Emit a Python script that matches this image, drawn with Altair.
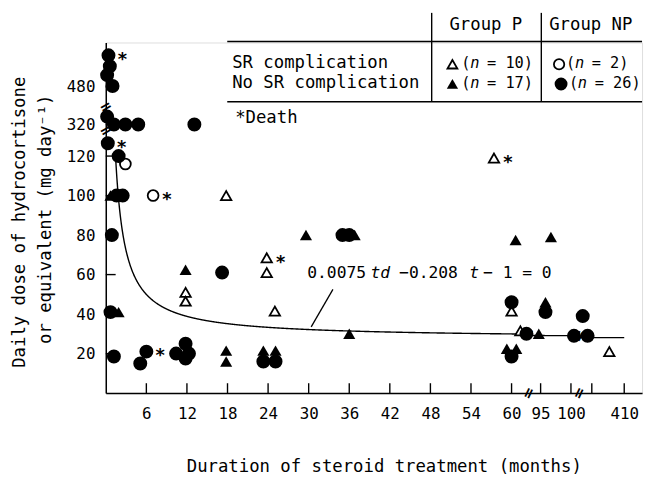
import altair as alt
import pandas as pd

FONT = "DejaVu Sans Mono"

# ---------------- data (months, daily dose) ----------------
# Group P, SR complication (open triangles)
p_sr_month = [17.8, 11.8, 11.8, 23.8, 23.8, 25.0, 57.4, 61.3, 405.4, 60.0]
p_sr_dose = [100, 51, 46.5, 68.5, 61, 41.5, 119, 31.5, 21, 41.5]
p_sr_death = [0, 0, 0, 1, 0, 0, 1, 0, 0, 0]

# Group P, no SR complication (filled triangles)
p_no_month = [0.7, 29.6, 11.8, 1.9, 17.8, 17.8, 23.3, 25.1, 36.8, 36.0,
              60.6, 96.7, 95.8, 59.3, 60.7, 94.7]
p_no_dose = [100, 80, 62.5, 41, 21.5, 16, 21.5, 21.5, 80, 30,
             77.5, 79, 46, 22.5, 22.5, 30]
p_no_death = [0] * len(p_no_month)

# Group NP, SR complication (open circles)
np_sr_month = [7.0, 2.9]
np_sr_dose = [100, 116]
np_sr_death = [1, 0]

# Group NP, no SR complication (filled circles)
np_no_month = [0.4, 0.6, 0.2, 1.0, 0.2, 1.2, 2.9, 4.8, 13.1, 0.3, 1.9,
               1.6, 2.5, 0.9, 17.2, 0.7, 1.2, 5.1, 6.0, 10.4, 11.8, 11.8,
               12.3, 23.3, 25.1, 35.0, 36.0, 60.0, 60.0, 95.8, 62.2, 100.5,
               398.7, 397.2]
np_no_dose = [496, 490.5, 486, 480.5, 324, 320, 320, 320, 320, 126.5, 120,
              100, 100, 80, 61, 41, 18.5, 15, 21, 20, 25, 17.5,
              20, 16, 16, 80, 80, 46, 18.5, 41, 30, 29,
              29, 39]
np_no_death = [1, 0, 0, 0, 0, 0, 0, 0, 0, 1, 0,
               0, 0, 0, 0, 0, 0, 0, 1, 0, 0, 0,
               0, 0, 0, 0, 0, 0, 0, 0, 0, 0,
               0, 0]

# fitted curve: a*t*d - b*t - c = 0
curve_a, curve_b, curve_c = 0.0075, 0.208, 1.0

x_tick_values = [6, 12, 18, 24, 30, 36, 42, 48, 54, 60, 95, 100, 400, 410]
y_tick_values = [20, 40, 60, 80, 100, 120, 320, 480]
x_breaks = [62.5, 101.3]
y_breaks = [133, 470]

rows = []
for grp, ms, ds, dt in [("P_SR", p_sr_month, p_sr_dose, p_sr_death),
                        ("P_NO", p_no_month, p_no_dose, p_no_death),
                        ("NP_SR", np_sr_month, np_sr_dose, np_sr_death),
                        ("NP_NO", np_no_month, np_no_dose, np_no_death)]:
    for m, d, k in zip(ms, ds, dt):
        rows.append({"month": m, "dose": d, "grp": grp, "death": k})
df = pd.DataFrame(rows)

W, H = 543, 355
x_scale = alt.Scale(domain=[0, 62.5, 93, 101.3, 396, 415.5],
                    range=[0, 428, 428, 479, 479, W], zero=False, nice=False)
y_scale = alt.Scale(domain=[0, 133, 317, 329, 470, 502.5],
                    range=[H, 89, 89, 65, 65, 0], zero=False, nice=False)

x_axis = alt.Axis(values=x_tick_values, ticks=False, grid=False, title=None,
                  labelExpr="datum.value == 400 ? '' : datum.label",
                  domainColor="black", domainWidth=1.5, labelFont=FONT,
                  labelFontSize=16, labelColor="black", labelPadding=13,
                  labelOverlap=False, labelFlush=False)
y_axis = alt.Axis(values=y_tick_values, ticks=False, grid=False, title=None,
                  domainColor="black", domainWidth=1.5, labelFont=FONT,
                  labelFontSize=16, labelColor="black", labelPadding=11,
                  labelOverlap=False, labelFlush=False)

X = alt.X("month:Q", scale=x_scale, axis=x_axis)
Y = alt.Y("dose:Q", scale=y_scale, axis=y_axis)
Xn = alt.X("month:Q", scale=x_scale)
Yn = alt.Y("dose:Q", scale=y_scale)

base = alt.Chart(df)

filled = base.transform_filter("datum.grp == 'P_NO' || datum.grp == 'NP_NO'").mark_point(
    filled=True, color="black", opacity=1
).encode(
    x=X, y=Y,
    shape=alt.Shape("grp:N", scale=alt.Scale(domain=["P_NO", "NP_NO"], range=["triangle-up", "circle"]), legend=None),
    size=alt.Size("grp:N", scale=alt.Scale(domain=["P_NO", "NP_NO"], range=[150, 200]), legend=None),
)

opened = base.transform_filter("datum.grp == 'P_SR' || datum.grp == 'NP_SR'").mark_point(
    filled=True, fill="white", stroke="black", strokeWidth=1.8, opacity=1, fillOpacity=1
).encode(
    x=Xn, y=Yn,
    shape=alt.Shape("grp:N", scale=alt.Scale(domain=["P_SR", "NP_SR"], range=["triangle-up", "circle"]), legend=None),
    size=alt.Size("grp:N", scale=alt.Scale(domain=["P_SR", "NP_SR"], range=[110, 120]), legend=None),
)

stars = base.transform_filter("datum.death == 1").mark_text(
    text="*", font="DejaVu Sans", fontSize=18, fontWeight="bold", dx=14, dy=5,
    baseline="middle", color="black"
).encode(x=Xn, y=Yn)

curve = alt.Chart(alt.sequence(1.45, 410.05, 0.05, as_="month")).transform_filter(
    "datum.month <= 62.5 || (datum.month >= 93 && datum.month <= 101.3) || datum.month >= 396"
).transform_calculate(
    dose=f"({curve_b} * datum.month + {curve_c}) / ({curve_a} * datum.month)"
).mark_line(color="black", strokeWidth=1.4).encode(x=Xn, y=Yn, order="month:Q")

one = alt.Data(values=[{"k": 1}])

xt = alt.Chart(pd.DataFrame({"month": x_tick_values})).mark_rule(color="black", strokeWidth=1.4).encode(
    x=Xn, y=alt.value(H - 10), y2=alt.value(H))
yt = alt.Chart(pd.DataFrame({"dose": y_tick_values})).mark_rule(color="black", strokeWidth=1.4).encode(
    y=Yn, x=alt.value(0), x2=alt.value(10))

xb = alt.Chart(pd.DataFrame({"month": x_breaks, "dose": [0, 0]})).mark_text(
    text="=", fontSize=15, fontWeight="bold", font="DejaVu Sans", angle=295, color="black", baseline="middle"
).encode(x=Xn, y=Yn)
cb = alt.Chart(pd.DataFrame({"month": x_breaks})).transform_calculate(
    dose=f"({curve_b} * datum.month + {curve_c}) / ({curve_a} * datum.month)"
).mark_text(
    text="=", fontSize=15, fontWeight="bold", font="DejaVu Sans", angle=295, color="black", baseline="middle"
).encode(x=Xn, y=Yn)
yb = alt.Chart(pd.DataFrame({"month": [0, 0], "dose": y_breaks})).mark_text(
    text="=", fontSize=15, fontWeight="bold", font="DejaVu Sans", angle=330, color="black", baseline="middle"
).encode(x=Xn, y=Yn)


def txt(s, x, y, size=17, align="left", style="normal", angle=0, font=FONT):
    return alt.Chart(one).mark_text(
        text=s, font=font, fontSize=size, align=align, baseline="middle",
        fontStyle=style, angle=angle, color="black"
    ).encode(x=alt.value(x), y=alt.value(y))


def rule(x1, y1, x2, y2, w=1.4):
    return alt.Chart(one).mark_rule(color="black", strokeWidth=w).encode(
        x=alt.value(x1), y=alt.value(y1), x2=alt.value(x2), y2=alt.value(y2))


def sym(shape, filled_, x, y, size):
    if filled_:
        mk = alt.Chart(one).mark_point(shape=shape, filled=True, color="black", size=size, opacity=1)
    else:
        mk = alt.Chart(one).mark_point(shape=shape, filled=True, fill="white", stroke="black",
                                       strokeWidth=1.8, size=size, opacity=1)
    return mk.encode(x=alt.value(x), y=alt.value(y))


def n_label(x, y, num):
    return [txt("(", x, y, 15.5), txt("n", x + 9, y, 15.5, style="italic"),
            txt("= " + num + ")", x + 26, y, 15.5)]


ox, oy = 107, 40  # plot origin in page pixels
legend = [
    rule(230 - ox, 39 - oy, 650 - ox, 39 - oy),
    rule(230 - ox, 100 - oy, 650 - ox, 100 - oy),
    rule(437 - ox, 10 - oy, 437 - ox, 100 - oy),
    rule(548 - ox, 10 - oy, 548 - ox, 100 - oy),
    txt("Group P", 455 - ox, 22 - oy, 17.5),
    txt("Group NP", 556 - ox, 22 - oy, 17.5),
    txt("SR complication", 235 - ox, 61 - oy, 17.5),
    txt("No SR complication", 235 - ox, 81 - oy, 17.5),
    sym("triangle-up", False, 458 - ox, 62 - oy, 100),
    sym("triangle-up", True, 458 - ox, 82 - oy, 130),
    sym("circle", False, 566 - ox, 62 - oy, 110),
    sym("circle", True, 568 - ox, 82 - oy, 170),
    txt("*Death", 238 - ox, 117 - oy, 17.5),
]
legend += n_label(467 - ox, 61 - oy, "10")
legend += n_label(467 - ox, 81 - oy, "17")
legend += n_label(573 - ox, 61 - oy, "2")
legend += n_label(576 - ox, 81 - oy, "26")

equation = [
    txt("0.0075", 311 - ox, 273 - oy, 16.5),
    txt("td", 375 - ox, 273 - oy, 16.5, style="italic"),
    txt("\u22120.208", 404 - ox, 273 - oy, 16.5),
    txt("t", 475 - ox, 273 - oy, 16.5, style="italic"),
    txt("\u2212 1 = 0", 489 - ox, 273 - oy, 16.5),
    rule(315 - ox, 328 - oy, 337 - ox, 290 - oy, 1.3),
]

titles = [
    txt("Daily dose of hydrocortisone", 20 - ox, 222 - oy, 17.5, align="center", angle=270),
    txt("or equivalent (mg day\u207b\u00b9)", 47 - ox, 219 - oy, 17.5, align="center", angle=270),
    txt("Duration of steroid treatment (months)", 389 - ox, 470 - oy, 17.5, align="center"),
]

chart = alt.layer(
    curve, xt, yt, opened, filled, stars, xb, yb, cb, *legend, *equation, *titles
).resolve_scale(shape="independent", size="independent").properties(
    width=W, height=H,
    autosize=alt.AutoSizeParams(type="none"),
    padding={"left": 99, "top": 32, "right": 4, "bottom": 80},
).configure_view(stroke=None).configure(background="white")

chart.save("out.html", embed_options={"renderer": "svg", "actions": False})
